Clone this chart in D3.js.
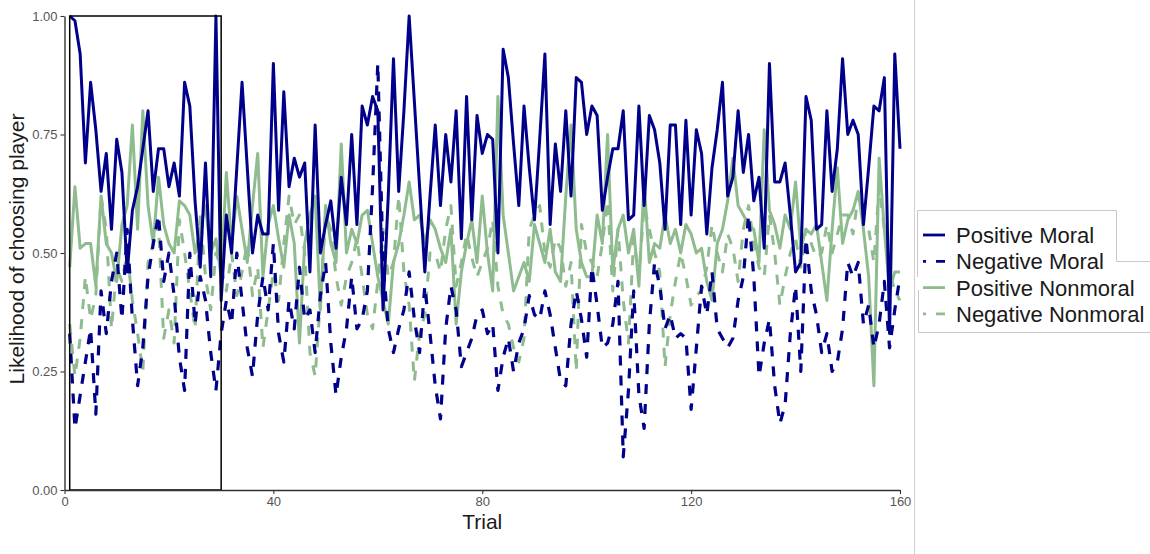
<!DOCTYPE html>
<html>
<head>
<meta charset="utf-8">
<script src="https://cdn.jsdelivr.net/npm/d3@7"></script>
<style>
  html, body { margin: 0; padding: 0; background: #fff; }
  svg { display: block; font-family: "Liberation Sans", Arial, sans-serif; }
</style>
</head>
<body>
<svg id="chart" width="1150" height="554"></svg>
<script>
// ---- data ----
const seriesNames = ["Positive Moral", "Negative Moral", "Positive Nonmoral", "Negative Nonmoral"];
const xTicks = [0, 40, 80, 120, 160];
const yTicks = [0, 0.25, 0.5, 0.75, 1];
const highlightTrials = [1, 30];

const positiveMoral = [
  1.00, 0.99, 0.92, 0.69, 0.86, 0.76, 0.63, 0.71, 0.55, 0.74,
  0.67, 0.46, 0.59, 0.64, 0.72, 0.80, 0.63, 0.72, 0.72, 0.64,
  0.69, 0.62, 0.86, 0.81, 0.61, 0.47, 0.69, 0.45, 1.00, 0.40,
  0.58, 0.50, 0.68, 0.86, 0.68, 0.50, 0.58, 0.54, 0.54, 0.90,
  0.59, 0.84, 0.64, 0.70, 0.66, 0.69, 0.46, 0.77, 0.50, 0.56,
  0.61, 0.51, 0.66, 0.56, 0.75, 0.56, 0.81, 0.77, 0.83, 0.80,
  0.38, 0.62, 0.91, 0.63, 0.80, 1.00, 0.82, 0.64, 0.46, 0.62,
  0.77, 0.60, 0.75, 0.65, 0.80, 0.53, 0.83, 0.57, 0.79, 0.71,
  0.75, 0.74, 0.50, 0.93, 0.87, 0.73, 0.60, 0.81, 0.68, 0.57,
  0.74, 0.92, 0.56, 0.73, 0.63, 0.80, 0.62, 0.87, 0.86, 0.75,
  0.81, 0.79, 0.59, 0.66, 0.72, 0.72, 0.80, 0.57, 0.58, 0.81,
  0.60, 0.79, 0.76, 0.69, 0.55, 0.77, 0.77, 0.56, 0.78, 0.58,
  0.76, 0.71, 0.54, 0.68, 0.76, 0.86, 0.62, 0.66, 0.80, 0.67,
  0.75, 0.61, 0.66, 0.51, 0.90, 0.65, 0.65, 0.69, 0.58, 0.46,
  0.48, 0.83, 0.78, 0.55, 0.56, 0.80, 0.63, 0.72, 0.91, 0.75,
  0.78, 0.75, 0.56, 0.68, 0.81, 0.80, 0.87, 0.33, 0.92, 0.72
];
const negativeMoral = [
  0.33, 0.13, 0.20, 0.27, 0.34, 0.16, 0.42, 0.33, 0.44, 0.50,
  0.36, 0.55, 0.36, 0.22, 0.30, 0.45, 0.52, 0.58, 0.44, 0.50,
  0.41, 0.28, 0.21, 0.50, 0.35, 0.45, 0.40, 0.29, 0.21, 0.33,
  0.40, 0.35, 0.50, 0.40, 0.30, 0.24, 0.37, 0.45, 0.38, 0.52,
  0.33, 0.27, 0.40, 0.34, 0.47, 0.36, 0.38, 0.29, 0.41, 0.48,
  0.31, 0.20, 0.28, 0.34, 0.45, 0.34, 0.36, 0.42, 0.64, 0.90,
  0.48, 0.34, 0.29, 0.34, 0.38, 0.46, 0.36, 0.29, 0.43, 0.33,
  0.22, 0.15, 0.34, 0.43, 0.38, 0.26, 0.29, 0.32, 0.37, 0.38,
  0.33, 0.35, 0.21, 0.28, 0.32, 0.25, 0.31, 0.34, 0.41, 0.37,
  0.36, 0.42, 0.37, 0.30, 0.23, 0.22, 0.35, 0.42, 0.36, 0.28,
  0.47, 0.39, 0.30, 0.31, 0.35, 0.44, 0.07, 0.21, 0.42, 0.20,
  0.13, 0.35, 0.48, 0.43, 0.34, 0.37, 0.32, 0.33, 0.32, 0.17,
  0.30, 0.43, 0.37, 0.46, 0.34, 0.32, 0.30, 0.32, 0.40, 0.45,
  0.58, 0.45, 0.24, 0.31, 0.36, 0.22, 0.14, 0.18, 0.33, 0.43,
  0.25, 0.53, 0.42, 0.37, 0.29, 0.33, 0.25, 0.27, 0.34, 0.48,
  0.45, 0.48, 0.35, 0.39, 0.30, 0.35, 0.44, 0.30, 0.38, 0.45
];
const positiveNonmoral = [
  0.47, 0.64, 0.51, 0.52, 0.52, 0.43, 0.62, 0.52, 0.50, 0.44,
  0.56, 0.60, 0.77, 0.55, 0.80, 0.60, 0.52, 0.66, 0.56, 0.52,
  0.50, 0.61, 0.60, 0.58, 0.50, 0.55, 0.60, 0.50, 0.53, 0.45,
  0.67, 0.52, 0.62, 0.55, 0.48, 0.60, 0.71, 0.45, 0.56, 0.60,
  0.53, 0.47, 0.58, 0.52, 0.31, 0.52, 0.58, 0.62, 0.38, 0.60,
  0.52, 0.48, 0.73, 0.50, 0.55, 0.52, 0.58, 0.59, 0.52, 0.45,
  0.40, 0.35, 0.48, 0.52, 0.58, 0.65, 0.57, 0.58, 0.52, 0.57,
  0.55, 0.51, 0.48, 0.55, 0.35, 0.46, 0.52, 0.57, 0.48, 0.62,
  0.50, 0.42, 0.83, 0.58, 0.50, 0.42, 0.45, 0.48, 0.44, 0.56,
  0.52, 0.48, 0.55, 0.46, 0.44, 0.62, 0.77, 0.55, 0.48, 0.45,
  0.45, 0.58, 0.52, 0.75, 0.46, 0.55, 0.58, 0.50, 0.55, 0.43,
  0.65, 0.48, 0.52, 0.51, 0.58, 0.52, 0.55, 0.50, 0.56, 0.54,
  0.50, 0.51, 0.44, 0.40, 0.52, 0.55, 0.61, 0.70, 0.60, 0.58,
  0.56, 0.55, 0.48, 0.76, 0.59, 0.56, 0.51, 0.58, 0.55, 0.65,
  0.51, 0.55, 0.54, 0.56, 0.48, 0.40, 0.55, 0.68, 0.52, 0.57,
  0.59, 0.63, 0.55, 0.45, 0.22, 0.70, 0.55, 0.42, 0.46, 0.46
];
const negativeNonmoral = [
  0.35, 0.24, 0.32, 0.45, 0.36, 0.41, 0.62, 0.55, 0.34, 0.47,
  0.44, 0.50, 0.40, 0.33, 0.25, 0.48, 0.52, 0.56, 0.32, 0.38,
  0.31, 0.57, 0.50, 0.42, 0.34, 0.58, 0.45, 0.38, 0.50, 0.47,
  0.42, 0.50, 0.41, 0.46, 0.52, 0.41, 0.47, 0.30, 0.38, 0.46,
  0.40, 0.52, 0.62, 0.56, 0.58, 0.50, 0.29, 0.24, 0.40, 0.58,
  0.55, 0.45, 0.39, 0.45, 0.48, 0.53, 0.45, 0.37, 0.34, 0.44,
  0.55, 0.45, 0.48, 0.62, 0.46, 0.39, 0.23, 0.33, 0.37, 0.50,
  0.50, 0.46, 0.55, 0.60, 0.43, 0.48, 0.54, 0.49, 0.45, 0.48,
  0.51, 0.57, 0.43, 0.37, 0.35, 0.30, 0.27, 0.32, 0.55, 0.58,
  0.60, 0.50, 0.47, 0.53, 0.51, 0.43, 0.48, 0.25, 0.56, 0.50,
  0.48, 0.45, 0.52, 0.61, 0.42, 0.55, 0.40, 0.31, 0.53, 0.45,
  0.60, 0.55, 0.50, 0.46, 0.26, 0.37, 0.44, 0.50, 0.45, 0.39,
  0.41, 0.42, 0.47, 0.56, 0.50, 0.46, 0.54, 0.51, 0.44, 0.55,
  0.60, 0.52, 0.47, 0.45, 0.58, 0.50, 0.39, 0.45, 0.50, 0.53,
  0.47, 0.55, 0.52, 0.49, 0.50, 0.56, 0.50, 0.54, 0.58, 0.58,
  0.54, 0.62, 0.57, 0.55, 0.48, 0.64, 0.55, 0.46, 0.42, 0.40
];

const colors = { moral: "#00008B", nonmoral: "#8FBC8F" };

// ---- chart ----
const svg = d3.select("#chart");
const x = d3.scaleLinear().domain([0, 160]).range([64.5, 900]);
const y = d3.scaleLinear().domain([0, 1]).range([490, 16]);

const series = [
  { name: seriesNames[3], values: negativeNonmoral, color: colors.nonmoral, dash: "10,10", width: 3 },
  { name: seriesNames[2], values: positiveNonmoral, color: colors.nonmoral, dash: null, width: 3 },
  { name: seriesNames[1], values: negativeMoral, color: colors.moral, dash: "10,10", width: 3.2 },
  { name: seriesNames[0], values: positiveMoral, color: colors.moral, dash: null, width: 3 }
];

const line = d3.line()
  .x((d, i) => x(i + 1))
  .y(d => y(d));

svg.append("g").selectAll("path")
  .data(series)
  .join("path")
  .attr("fill", "none")
  .attr("stroke", d => d.color)
  .attr("stroke-width", d => d.width)
  .attr("stroke-linejoin", "round")
  .attr("stroke-dasharray", d => d.dash)
  .attr("d", d => line(d.values));

// highlight rectangle
svg.append("rect")
  .attr("x", x(highlightTrials[0]))
  .attr("y", y(1))
  .attr("width", x(highlightTrials[1]) - x(highlightTrials[0]))
  .attr("height", y(0) - y(1))
  .attr("fill", "none")
  .attr("stroke", "#000")
  .attr("stroke-width", 1.5);

// axes
const yAxis = d3.axisLeft(y).tickValues(yTicks).tickFormat(d3.format(".2f")).tickSize(4).tickSizeOuter(0);
const xAxis = d3.axisBottom(x).tickValues(xTicks).tickFormat(d3.format("d")).tickSize(4).tickSizeOuter(0);

const gy = svg.append("g").attr("transform", "translate(64.5,0)").call(yAxis);
const gx = svg.append("g").attr("transform", "translate(0,490)").call(xAxis);
[gx, gy].forEach(g => {
  g.select(".domain").attr("stroke", "#333").attr("stroke-width", 1.4);
  g.selectAll(".tick line").attr("stroke", "#333").attr("stroke-width", 1.1);
  g.selectAll(".tick text").attr("fill", "#555").attr("font-size", 13)
    .attr("font-family", "Liberation Sans, Arial, sans-serif");
});
gy.selectAll(".tick text").attr("x", -7);
gx.selectAll(".tick text").attr("y", 7);

// axis titles
svg.append("text")
  .attr("x", (x(0) + x(160)) / 2)
  .attr("y", 529)
  .attr("text-anchor", "middle")
  .attr("font-size", 21)
  .attr("fill", "#1a1a1a")
  .text("Trial");

svg.append("text")
  .attr("transform", "translate(24,249) rotate(-90)")
  .attr("text-anchor", "middle")
  .attr("font-size", 21)
  .attr("fill", "#1a1a1a")
  .text("Likelihood of choosing player");

// separator line and legend frames
svg.append("line")
  .attr("x1", 914.5).attr("x2", 914.5).attr("y1", 0).attr("y2", 554)
  .attr("stroke", "#cfcfcf").attr("stroke-width", 1);

svg.append("path")
  .attr("d", "M917.5,277 V210.5 H1116.5 V261.5 H1150")
  .attr("fill", "none").attr("stroke", "#c8c8c8").attr("stroke-width", 1);
svg.append("path")
  .attr("d", "M918.5,290 V332.5 H1150")
  .attr("fill", "none").attr("stroke", "#c8c8c8").attr("stroke-width", 1);

// legend
const legendOrder = [series[3], series[2], series[1], series[0]];
const lg = svg.append("g").selectAll("g")
  .data(legendOrder)
  .join("g")
  .attr("transform", (d, i) => `translate(0,${235 + i * 26.3})`);

lg.append("line")
  .attr("x1", 923).attr("x2", 945).attr("y1", 0).attr("y2", 0)
  .attr("stroke", d => d.color)
  .attr("stroke-width", 2.8)
  .attr("stroke-dasharray", d => d.dash ? "10,10" : null)
  .attr("stroke-dashoffset", d => d.dash ? 7 : null);

lg.append("text")
  .attr("x", 956)
  .attr("y", 8)
  .attr("font-size", 22)
  .attr("fill", "#1a1a1a")
  .text(d => d.name);
</script>
</body>
</html>
